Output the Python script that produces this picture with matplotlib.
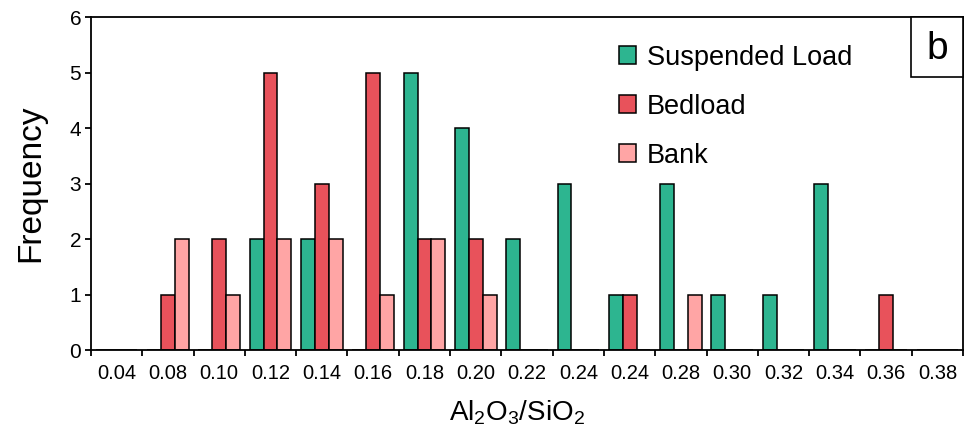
import numpy as np
import matplotlib
matplotlib.use('Agg')
import matplotlib.pyplot as plt
from matplotlib.patches import Rectangle

plt.rcParams['font.family'] = ['Liberation Sans', 'DejaVu Sans']
plt.rcParams['mathtext.fontset'] = 'custom'
plt.rcParams['mathtext.rm'] = 'Liberation Sans'

# --- data ---
ratio_labels = ['0.04', '0.08', '0.10', '0.12', '0.14', '0.16', '0.18', '0.20', '0.22',
                '0.24', '0.24', '0.28', '0.30', '0.32', '0.34', '0.36', '0.38']
suspended = [0, 0, 0, 2, 2, 0, 5, 4, 2, 3, 1, 3, 1, 1, 3, 0, 0]
bedload   = [0, 1, 2, 5, 3, 5, 2, 2, 0, 0, 1, 0, 0, 0, 0, 1, 0]
bank      = [0, 2, 1, 2, 2, 1, 2, 1, 0, 0, 0, 1, 0, 0, 0, 0, 0]

series = [('Suspended Load', suspended, '#2DB590'),
          ('Bedload', bedload, '#E8525B'),
          ('Bank', bank, '#FFA5A5')]

fig = plt.figure(figsize=(9.65, 4.38), dpi=100)
ax = fig.add_axes([0.0943, 0.2009, 0.9037, 0.7602])

x = np.arange(len(ratio_labels))
w = 0.27
for k, (name, vals, col) in enumerate(series):
    ax.bar(x + (k - 1) * w, vals, width=w, color=col, edgecolor='black',
           linewidth=1.1, label=name, zorder=2)

ax.set_xlim(-0.5, len(ratio_labels) - 0.5)
ax.set_ylim(0, 6)

# ticks between categories, labels centred on them
ax.set_xticks(np.arange(-0.5, len(ratio_labels), 1.0))
ax.set_xticklabels([])
ax.set_xticks(x, minor=True)
ax.set_xticklabels(ratio_labels, minor=True, fontsize=14.5)
ax.tick_params(axis='x', which='major', direction='out', length=4, width=1.3)
ax.tick_params(axis='x', which='minor', length=0, pad=10)
ax.set_yticks(range(0, 7))
ax.tick_params(axis='y', direction='out', length=4, width=1.3, labelsize=15, pad=3)

for s in ax.spines.values():
    s.set_linewidth(1.3)

ax.set_ylabel('Frequency', fontsize=24, labelpad=17)
ax.set_xlabel(r'$\mathrm{Al_2O_3/SiO_2}$', fontsize=20, labelpad=11)
ax.xaxis.label.set_x(0.4885)

leg = ax.legend(loc='upper left', bbox_to_anchor=(0.6055, 0.917), frameon=False,
                fontsize=19.5, borderpad=0, borderaxespad=0, handlelength=0.62,
                handleheight=0.62, handletextpad=0.4, labelspacing=0.85)

# panel letter box in the upper right corner
ax.add_patch(Rectangle((0.940, 0.820), 0.060, 0.180, transform=ax.transAxes,
                       facecolor='white', edgecolor='black', linewidth=1.2,
                       clip_on=False, zorder=3))
ax.text(0.970, 0.905, 'b', transform=ax.transAxes, ha='center', va='center',
        fontsize=28, zorder=4)

fig.savefig('out.png', dpi=100)
